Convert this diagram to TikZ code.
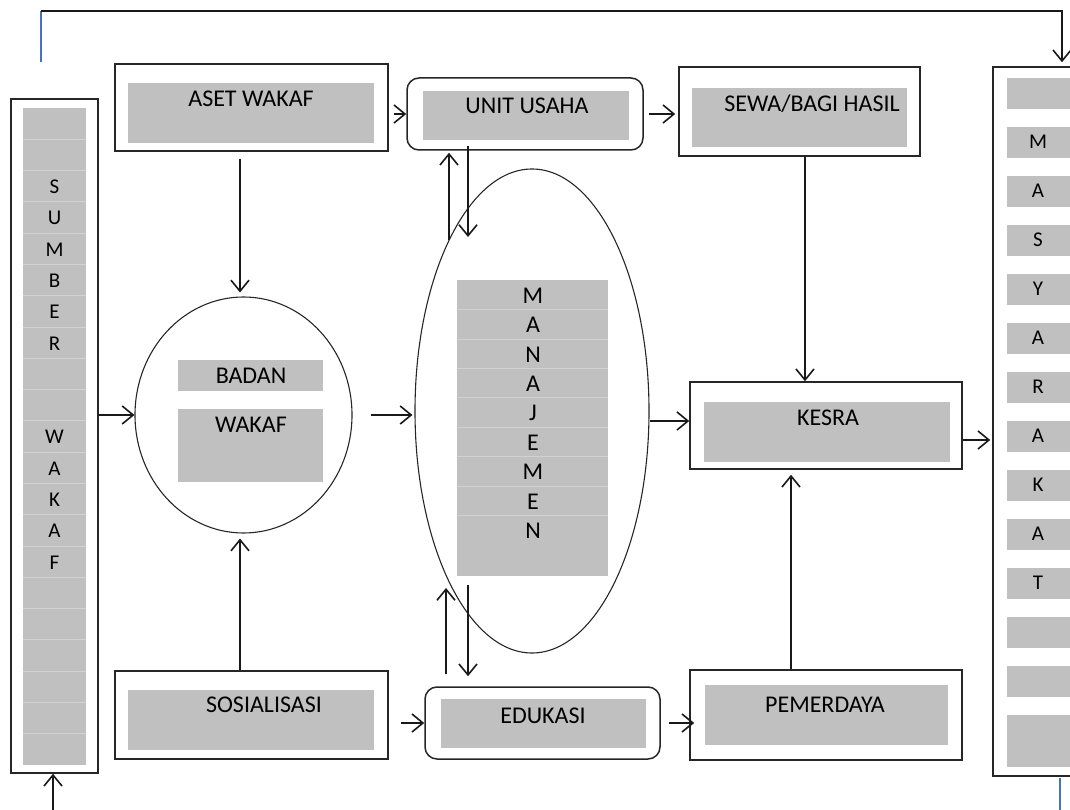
\documentclass[tikz,border=0pt]{standalone}
\usepackage{fontspec}
\setmainfont{Carlito}
\usetikzlibrary{arrows.meta,shapes.geometric}
\definecolor{cellgray}{HTML}{C0C0C0}
\definecolor{sepgray}{HTML}{D2D2D2}
\definecolor{lineblue}{HTML}{4472C4}
\begin{document}
\begin{tikzpicture}[x=1pt,y=-1pt,
  frame/.style={draw=black!85, line width=1.5pt, inner sep=0pt, fill=white},
  roundframe/.style={frame, rounded corners=12pt},
  graybox/.style={fill=cellgray, inner sep=0pt, draw=none},
  lbl/.style={anchor=base, inner sep=0pt, font=\fontsize{24}{28}\selectfont, text=black},
  colletter/.style={anchor=base, inner sep=0pt, font=\fontsize{21}{24}\selectfont, text=black},
  arr/.style={line width=1.6pt, draw=black!90, -{Straight Barb[length=11pt,width=18pt,line width=1.6pt]}},
  oval/.style={draw=black!85, line width=1.1pt, ellipse, inner sep=0pt},
  sepline/.style={draw=sepgray, line width=0.9pt},
  blueline/.style={draw=lineblue, line width=1.3pt}]
\useasboundingbox (0,0) rectangle (1070,810);
\clip (0,0) rectangle (1070,810);

% SUMBER WAKAF column
\node[frame, minimum width=87pt, minimum height=674pt] (sumber) at (54.5,436) {};
\node[graybox, minimum width=63pt, minimum height=657pt] (sumberg) at (54.5,436.5) {};
\foreach \i in {1,...,20} \draw[sepline] (23,108+31.286*\i) -- (86,108+31.286*\i);
\foreach \i/\c in {2/S,3/U,4/M,5/B,6/E,7/R,10/W,11/A,12/K,13/A,14/F}
  \node[colletter] (sl\i) at (54.5,108+31.286*\i+23) {\c};

% MASYARAKAT column
\node[frame, minimum width=110pt, minimum height=709pt] (masy) at (1048,421.5) {};
\foreach \k in {0,...,12}
  \node[graybox, minimum width=70pt, minimum height=31pt, anchor=north west] (mc\k) at (1007,78+49*\k) {};
\node[graybox, minimum width=70pt, minimum height=52pt, anchor=north west] (mc13) at (1007,715) {};
\foreach \k/\c in {1/M,2/A,3/S,4/Y,5/A,6/R,7/A,8/K,9/A,10/T}
  \node[colletter] (ml\k) at (1038,78+49*\k+21.5) {\c};

% ASET WAKAF
\node[frame, minimum width=273pt, minimum height=87pt] (aset) at (251.5,107.5) {};
\node[graybox, minimum width=246pt, minimum height=60pt] (asetg) at (251,113) {};
\node[lbl] (asett) at (251,107) {ASET WAKAF};

% UNIT USAHA
\node[roundframe, minimum width=236pt, minimum height=72pt] (unit) at (525,114) {};
\node[graybox, minimum width=206pt, minimum height=49pt] (unitg) at (526,115.5) {};
\node[lbl] (unitt) at (527,114) {UNIT USAHA};

% SEWA/BAGI HASIL
\node[frame, minimum width=241pt, minimum height=89pt] (sewa) at (799.5,111.5) {};
\node[graybox, minimum width=215pt, minimum height=59pt] (sewag) at (799.5,117.5) {};
\node[lbl] (sewat) at (812,112) {SEWA/BAGI HASIL};

% BADAN WAKAF
\node[oval, minimum width=217pt, minimum height=236pt] (badan) at (243.5,415) {};
\node[graybox, minimum width=145pt, minimum height=31pt] (badang) at (250.5,375.5) {};
\node[graybox, minimum width=145pt, minimum height=73pt] (wakafg) at (250.5,445.5) {};
\node[lbl] (badant) at (251,383) {BADAN};
\node[lbl] (wakaft) at (251,432) {WAKAF};

% MANAJEMEN
\node[oval, minimum width=234pt, minimum height=484pt] (man) at (532,411) {};
\node[graybox, minimum width=151pt, minimum height=296pt] (mang) at (532.5,428) {};
\foreach \y in {309,339,368,397,427,456,486,515} \draw[sepline] (457,\y) -- (608,\y);
\foreach \y/\c [count=\n] in {303/M,332/A,362/N,391/A,420/J,450/E,479/M,509/E,538/N}
  \node[lbl] (mn\n) at (533,\y) {\c};

% KESRA
\node[frame, minimum width=272pt, minimum height=87pt] (kesra) at (826,425.5) {};
\node[graybox, minimum width=246pt, minimum height=60pt] (kesrag) at (827,432) {};
\node[lbl] (kesrat) at (828,425) {KESRA};

% SOSIALISASI
\node[frame, minimum width=273pt, minimum height=88pt] (sos) at (251.5,715) {};
\node[graybox, minimum width=246pt, minimum height=60pt] (sosg) at (251,720) {};
\node[lbl] (sost) at (264,712) {SOSIALISASI};

% EDUKASI
\node[roundframe, minimum width=235pt, minimum height=72pt] (edu) at (542.5,723) {};
\node[graybox, minimum width=205pt, minimum height=49pt] (edug) at (543.5,723.5) {};
\node[lbl] (edut) at (543,723) {EDUKASI};

% PEMERDAYA
\node[frame, minimum width=272pt, minimum height=90pt] (pem) at (826,715) {};
\node[graybox, minimum width=243pt, minimum height=60pt] (pemg) at (826.5,715) {};
\node[lbl] (pemt) at (825,712) {PEMERDAYA};

% top connector
\coordinate (tl) at (41,62);
\coordinate (tc) at (41,11);
\coordinate (tr) at (1062,11);
\draw[blueline] (tl) -- (tc);
\draw[arr, line width=1.3pt, shorten >=4pt] (tc) -- (tr) -- (tr |- masy.north);

% small blue mark bottom right
\coordinate (bb1) at (1060,778);
\coordinate (bb2) at (1060,810);
\draw[blueline] (bb1) -- (bb2);

% bottom arrow into SUMBER WAKAF
\coordinate (sb) at (53,810);
\draw[arr] (sb) -- (sb |- sumber.south);

% connectors
\draw[arr] (sumber.east |- badan.west) -- (badan.west);
\draw[arr, shorten <=18pt, shorten >=2pt] (badan.east) -- (man.west |- badan.east);
\draw[arr, shorten <=7pt, shorten >=4pt] ([xshift=-3.5pt]badan.north |- aset.south) -- ([xshift=-3.5pt]badan.north);
\draw[arr, shorten >=5pt] ([xshift=-3.5pt]badan.south |- sos.north) -- ([xshift=-3.5pt]badan.south);
\draw[arr, shorten <=5pt] (aset.east |- unit.west) -- (unit.west);
\draw[arr, shorten <=5pt, shorten >=3pt] (unit.east) -- (sewa.west |- unit.east);

\coordinate (um1) at (449,240);
\coordinate (um2) at (468,237);
\draw[arr, shorten >=2pt] (um1) -- (um1 |- unit.south);
\draw[arr, shorten <=-5pt] (um2 |- unit.south) -- (um2);

\coordinate (em1) at (446,588);
\coordinate (em2) at (468,585);
\draw[arr, shorten <=12pt] (em1 |- edu.north) -- (em1);
\draw[arr, shorten >=10pt] (em2) -- (em2 |- edu.north);

\draw[arr, shorten <=12pt] (sos.east |- edu.west) -- (edu.west);
\draw[arr, shorten <=8pt, shorten >=-5pt] (edu.east) -- (pem.west |- edu.east);

\draw[arr] ([xshift=5.5pt]sewa.south) -- ([xshift=5.5pt]sewa.south |- kesra.north);
\draw[arr, shorten >=5pt] ([xshift=-35pt]pem.north) -- ([xshift=-35pt]pem.north |- kesra.south);
\draw[arr] ([yshift=4.5pt]kesra.west -| man.east) -- ([yshift=4.5pt]kesra.west);
\draw[arr, shorten >=2pt] ([yshift=-14.5pt]kesra.east) -- ([yshift=-14.5pt]kesra.east -| masy.west);
\end{tikzpicture}
\end{document}
